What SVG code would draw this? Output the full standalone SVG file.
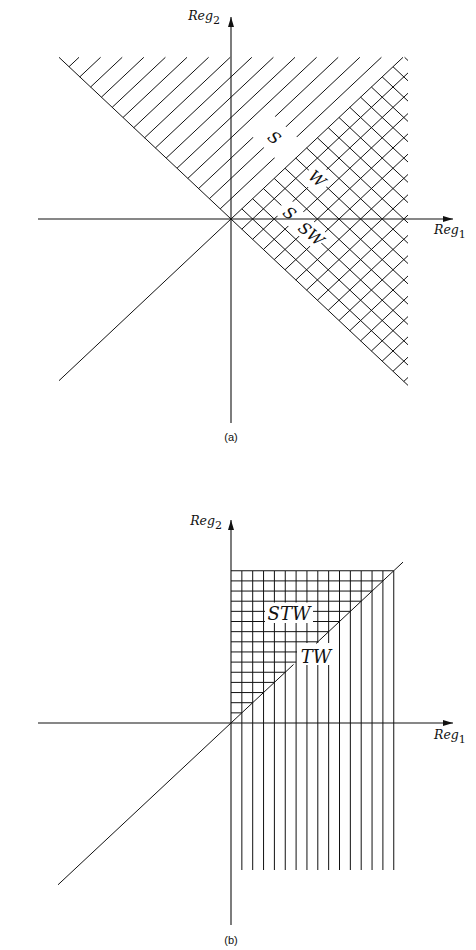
<svg xmlns="http://www.w3.org/2000/svg" width="476" height="950" viewBox="0 0 476 950">
<style>
.ln{fill:none;stroke:#111;stroke-width:1;vector-effect:non-scaling-stroke}
.ax{fill:none;stroke:#111;stroke-width:1.1;marker-end:url(#arr)}
.clr{fill:#fff;stroke:none}
.lbl{font-family:"DejaVu Serif","Liberation Serif",serif;font-style:italic;font-size:16px;fill:#111}
.reg{font-family:"DejaVu Serif","Liberation Serif",serif;font-style:italic;font-size:12.5px;fill:#111}
.sub{font-style:normal;font-size:11px}
.cap{font-family:"Liberation Sans",Arial,sans-serif;font-size:11px;fill:#111;text-anchor:middle}
</style>
<defs>
<marker id="arr" viewBox="0 0 10 6" refX="10" refY="3" markerWidth="10" markerHeight="6" markerUnits="userSpaceOnUse" orient="auto">
<path d="M0,0 L10,3 L0,6 z" fill="#111"/>
</marker>
</defs>

<!-- Panel (a) -->
<g id="panel-a">
  <g id="a-hatch" transform="matrix(0.5,-0.47,-0.5,-0.47,231,219)">
    <path id="a-S-hatch" class="ln" d="M0 21.6H322.4M0 43.2H300.8M0 64.8H279.2M0 86.4H257.6M0 108H236M0 129.6H214.4M0 151.2H192.8M0 172.8H171.2M0 194.4H149.6M0 216H128M0 237.6H106.4M0 259.2H84.8M0 280.8H63.2M0 302.4H41.6M0 324H20"/>
    <path id="a-W-hatch1" class="ln" d="M21.6 0V-332.4M43.2 0V-310.8M64.8 0V-289.2M86.4 0V-267.6M108 0V-246M129.6 0V-224.4M151.2 0V-202.8M172.8 0V-181.2M194.4 0V-159.6M216 0V-138M237.6 0V-116.4M259.2 0V-94.8M280.8 0V-73.2M302.4 0V-51.6M324 0V-30M345.6 -1.6V-8.4"/>
    <path id="a-W-hatch2" class="ln" d="M0 -21.6H332.4M0 -43.2H310.8M0 -64.8H289.2M0 -86.4H267.6M0 -108H246M0 -129.6H224.4M0 -151.2H202.8M0 -172.8H181.2M0 -194.4H159.6M0 -216H138M0 -237.6H116.4M0 -259.2H94.8M0 -280.8H73.2M0 -302.4H51.6M0 -324H30M0 -345.6H8.4"/>
    <rect class="clr" x="109" y="12" width="44" height="62"/>
    <rect class="clr" x="111" y="-61" width="37" height="35"/>
    <rect class="clr" x="50" y="-116" width="30" height="80"/>
    <path id="a-bounds" class="ln" d="M0 344V-354M-344 0H344"/>
  </g>
  <g id="a-axes">
    <line class="ax" x1="38" y1="219" x2="453" y2="219"/>
    <line class="ax" x1="231" y1="423" x2="231" y2="17"/>
  </g>
  <g id="a-labels">
    <text class="reg" x="213" y="20" text-anchor="end">Reg</text>
    <text class="reg" x="213" y="24"><tspan class="sub">2</tspan></text>
    <text class="reg" x="434" y="234">Reg<tspan class="sub" dy="4">1</tspan></text>
    <g transform="translate(274.6,137.4) rotate(40)"><text class="lbl" x="0" y="6" text-anchor="middle">S</text></g>
    <g transform="translate(317.4,178.4) rotate(40)"><text class="lbl" x="0" y="6" text-anchor="middle">W</text></g>
    <g transform="translate(289.9,213) rotate(40)"><text class="lbl" x="0" y="6" text-anchor="middle">S</text></g>
    <g transform="translate(311.4,233.7) rotate(40)"><text class="lbl" x="0" y="6" text-anchor="middle">SW</text></g>
    <text class="cap" x="231" y="441">(a)</text>
  </g>
</g>

<!-- Panel (b) -->
<g id="panel-b">
  <g id="b-grid">
    <path id="b-vert" class="ln" d="M241.85 571V870M252.7 571V870M263.55 571V870M274.4 571V870M285.25 571V870M296.1 571V870M306.95 571V870M317.8 571V870M328.65 571V870M339.5 571V870M350.35 571V870M361.2 571V870M372.05 571V870M382.9 571V870M393.75 571V870"/>
    <path id="b-horiz" class="ln" d="M231 712.85H241.85M231 702.7H252.7M231 692.55H263.55M231 682.4H274.4M231 672.25H285.25M231 662.1H296.1M231 651.95H306.95M231 641.8H317.8M231 631.65H328.65M231 621.5H339.5M231 611.35H350.35M231 601.2H361.2M231 591.05H372.05M231 580.9H382.9M231 570.75H393.75"/>
    <rect class="clr" x="265" y="602.5" width="48" height="20.5"/>
    <rect class="clr" x="297" y="643" width="38" height="22"/>
    <path id="b-diag" class="ln" d="M58 884.8L293.5 664.5M316 643.5L403 562.1"/>
  </g>
  <g id="b-axes">
    <line class="ax" x1="38" y1="723" x2="453" y2="723"/>
    <line class="ax" x1="231" y1="925" x2="231" y2="520"/>
  </g>
  <g id="b-labels">
    <text class="reg" x="215" y="525" text-anchor="end">Reg</text>
    <text class="reg" x="215" y="529"><tspan class="sub">2</tspan></text>
    <text class="reg" x="434" y="739">Reg<tspan class="sub" dy="4">1</tspan></text>
    <text class="lbl" x="289" y="619.5" text-anchor="middle" style="font-size:18px">STW</text>
    <text class="lbl" x="316" y="662.5" text-anchor="middle" style="font-size:18px">TW</text>
    <text class="cap" x="231" y="944">(b)</text>
  </g>
</g>
</svg>
